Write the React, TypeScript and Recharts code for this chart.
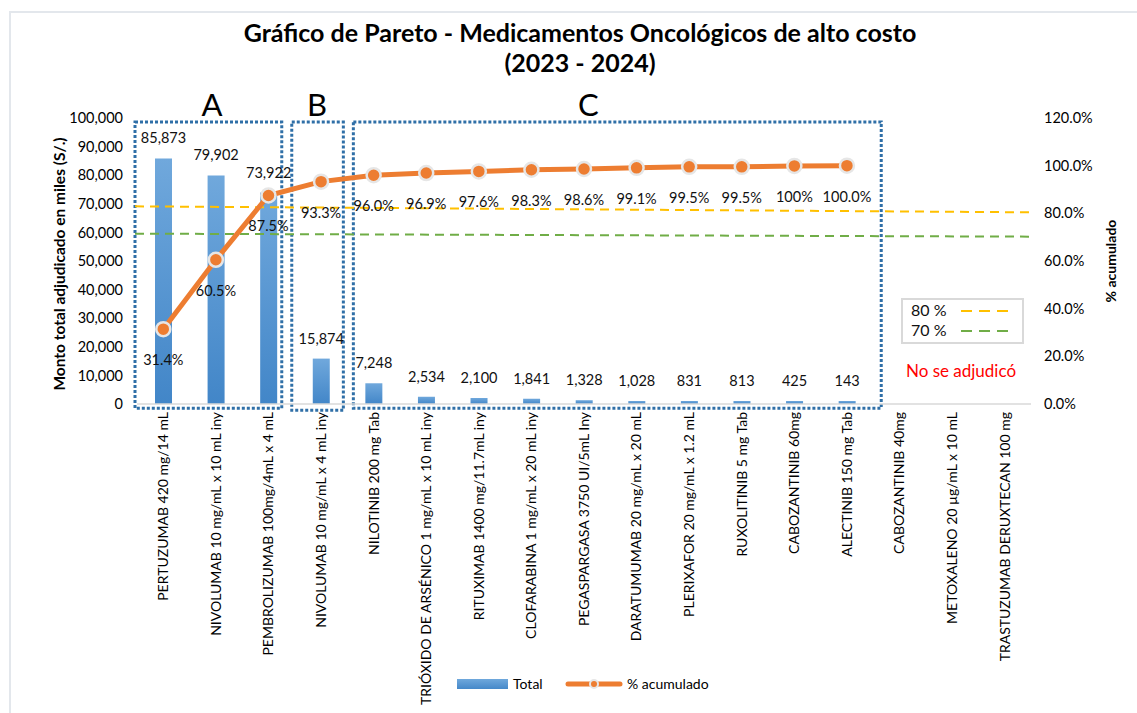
import React from 'react';
import {
  ComposedChart,
  Bar,
  Line,
  XAxis,
  YAxis,
  ReferenceLine,
  ReferenceArea,
  Legend,
  LabelList,
  Customized,
} from 'recharts';

// ---------- data ----------
const categories = [
  'PERTUZUMAB 420 mg/14 mL',
  'NIVOLUMAB 10 mg/mL x 10 mL iny',
  'PEMBROLIZUMAB 100mg/4mL x 4 mL',
  'NIVOLUMAB 10 mg/mL x 4 mL iny',
  'NILOTINIB 200 mg Tab',
  'TRIÓXIDO DE ARSÉNICO 1 mg/mL x 10 mL iny',
  'RITUXIMAB 1400 mg/11.7mL iny',
  'CLOFARABINA 1 mg/mL x 20 mL iny',
  'PEGASPARGASA 3750 UI/5mL Iny',
  'DARATUMUMAB 20 mg/mL x 20 mL',
  'PLERIXAFOR 20 mg/mL x 1.2 mL',
  'RUXOLITINIB 5 mg Tab',
  'CABOZANTINIB 60mg',
  'ALECTINIB 150 mg Tab',
  'CABOZANTINIB 40mg',
  'METOXALENO 20 µg/mL x 10 mL',
  'TRASTUZUMAB DERUXTECAN 100 mg',
];

const totals: (number | null)[] = [
  85873, 79902, 73922, 15874, 7248, 2534, 2100, 1841, 1328, 1028, 831, 813, 425, 143, null, null, null,
];

const cumulative: (number | null)[] = [
  31.4, 60.5, 87.5, 93.3, 96.0, 96.9, 97.6, 98.3, 98.6, 99.1, 99.5, 99.5, 99.9, 100.0, null, null, null,
];

const cumulativeLabels = [
  '31.4%', '60.5%', '87.5%', '93.3%', '96.0%', '96.9%', '97.6%', '98.3%', '98.6%', '99.1%',
  '99.5%', '99.5%', '100%', '100.0%', '', '', '',
];

const leftTicks = [0, 10000, 20000, 30000, 40000, 50000, 60000, 70000, 80000, 90000, 100000];
const rightTicks = [0, 20, 40, 60, 80, 100, 120];

const groups = [
  { name: 'A', from: 0, to: 2 },
  { name: 'B', from: 3, to: 3 },
  { name: 'C', from: 4, to: 13 },
];

const thresholds = [
  { label: '80 %', value: 80 },
  { label: '70 %', value: 70 },
];

// ---------- styles ----------
const FONT = "Lato, 'Liberation Sans', Arial, sans-serif";
const W = 1137;
const H = 713;
const PLOT_LEFT = 137;
const PLOT_RIGHT = 1031;
const ORANGE = '#ED7D31';
const BOX_BLUE = '#2F6FA7';
const thresholdStyle = [
  { color: '#FFC000', tiltLeft: -7, tiltRight: -1 },
  { color: '#70AD47', tiltLeft: -3.5, tiltRight: -0.5 },
];
const groupStyle = [
  { insetL: -2, insetR: -13, bottom: 0, letterDx: -4 },
  { insetL: -3, insetR: -4, bottom: 2, letterDx: -4 },
  { insetL: 6, insetR: 8, bottom: 0, letterDx: -22 },
];

const data = categories.map((name, i) => ({
  name,
  total: totals[i],
  pct: cumulative[i],
}));

const fmtThousands = (v: number) => v.toLocaleString('en-US');

const XTick = (props: any) => {
  const { x, y, payload } = props;
  return (
    <text
      x={x}
      y={y}
      transform={`rotate(-90 ${x} ${y})`}
      textAnchor="end"
      dy="0.35em"
      fontFamily={FONT}
      fontSize={14}
      fill="#000"
    >
      {payload.value}
    </text>
  );
};

const BarValueLabel = (props: any) => {
  const { x, y, width, value } = props;
  if (value == null) return null;
  return (
    <text
      x={Number(x) + Number(width) / 2}
      y={Number(y) - 15}
      textAnchor="middle"
      fontFamily={FONT}
      fontSize={14.5}
      fill="#111"
    >
      {fmtThousands(Number(value))}
    </text>
  );
};

const PctLabel = (props: any) => {
  const { x, y, index, value } = props;
  if (value == null) return null;
  return (
    <text
      x={x}
      y={Number(y) + 36}
      textAnchor="middle"
      fontFamily={FONT}
      fontSize={14.5}
      fill="#111"
    >
      {cumulativeLabels[index]}
    </text>
  );
};

const Annotations = () => (
  <g>
    <text x={580} y={42} textAnchor="middle" fontFamily={FONT} fontWeight={700} fontSize={25} fill="#000">
      Gráfico de Pareto - Medicamentos Oncológicos de alto costo
    </text>
    <text x={580} y={72} textAnchor="middle" fontFamily={FONT} fontWeight={700} fontSize={25} fill="#000">
      (2023 - 2024)
    </text>
    <rect x={902} y={299} width={121} height={44} fill="#fff" stroke="#D9D9D9" strokeWidth={2} />
    {thresholds.map((t, i) => (
      <g key={t.label}>
        <text x={911} y={316 + i * 20} fontFamily={FONT} fontSize={16} fill="#111">
          {t.label}
        </text>
        <line
          x1={961}
          x2={1010}
          y1={311 + i * 20}
          y2={311 + i * 20}
          stroke={thresholdStyle[i].color}
          strokeWidth={2}
          strokeDasharray="11 7"
        />
      </g>
    ))}
    <text x={961} y={377} textAnchor="middle" fontFamily={FONT} fontSize={17} fill="#FF0000">
      No se adjudicó
    </text>
  </g>
);

const renderLegend = () => (
  <div style={{ position: 'relative', width: W, height: 40, fontFamily: FONT, fontSize: 14, color: '#000' }}>
    <div
      style={{
        position: 'absolute',
        left: 457,
        top: 6,
        width: 51,
        height: 10,
        background: 'linear-gradient(#6FA8DC, #4588C9)',
      }}
    />
    <span style={{ position: 'absolute', left: 513, top: 2, lineHeight: '17px' }}>Total</span>
    <svg style={{ position: 'absolute', left: 565, top: 3 }} width={58} height={16}>
      <line x1={3} y1={8} x2={55} y2={8} stroke={ORANGE} strokeWidth={5} strokeLinecap="round" />
      <circle cx={29} cy={8} r={4} fill={ORANGE} stroke="#E6E6E6" strokeWidth={2} />
    </svg>
    <span style={{ position: 'absolute', left: 627, top: 2, lineHeight: '17px' }}>% acumulado</span>
  </div>
);

const ThresholdShape = (i: number) => (p: any) => {
  const yv = Number(p.y1 ?? p.y2 ?? p.y);
  return (
    <g clipPath="url(#thresholdClip)">
      <line
        x1={PLOT_LEFT - 2}
        x2={PLOT_RIGHT + 2}
        y1={yv + thresholdStyle[i].tiltLeft}
        y2={yv + thresholdStyle[i].tiltRight}
        stroke={thresholdStyle[i].color}
        strokeWidth={2}
        strokeDasharray="9 6"
      />
    </g>
  );
};

export default function App() {
  return (
    <div style={{ position: 'absolute', left: 0, top: 0, width: W, height: H, background: '#fff', overflow: 'hidden' }}>
      <div
        style={{
          position: 'absolute',
          left: 9,
          top: 11,
          width: W,
          height: H,
          borderTop: '2px solid #E3E7EC',
          borderLeft: '2px solid #E3E7EC',
        }}
      />
      <ComposedChart
        width={W}
        height={H}
        data={data}
        margin={{ top: 118, right: 0, bottom: 0, left: 0 }}
        style={{ position: 'absolute', left: 0, top: 0 }}
      >
        <defs>
          <linearGradient id="barGrad" x1="0" y1="0" x2="0" y2="1">
            <stop offset="0%" stopColor="#70A8DC" />
            <stop offset="100%" stopColor="#4286C8" />
          </linearGradient>
          <clipPath id="thresholdClip">
            <rect x={PLOT_LEFT - 3} y={0} width={PLOT_RIGHT - PLOT_LEFT + 6} height={H} />
          </clipPath>
        </defs>
        <XAxis
          dataKey="name"
          interval={0}
          height={269}
          tick={<XTick />}
          tickLine={false}
          axisLine={{ stroke: '#D9D9D9', strokeWidth: 1.5 }}
          xAxisId={0}
        />
        <YAxis
          yAxisId="left"
          domain={[0, 100000]}
          ticks={leftTicks}
          interval={0}
          tickFormatter={fmtThousands}
          width={137}
          axisLine={false}
          tickLine={false}
          tickMargin={8}
          tick={{ fontFamily: FONT, fontSize: 14.5, fill: '#000' }}
          label={(p: any) => {
            const vb = p.viewBox || {};
            const cx = (vb.x || 0) + 60;
            const cy = (vb.y || 118) + (vb.height || 286) / 2 + 3;
            return (
              <text
                x={cx}
                y={cy}
                transform={`rotate(-90 ${cx} ${cy})`}
                textAnchor="middle"
                dy="0.35em"
                fontFamily={FONT}
                fontWeight={700}
                fontSize={15.5}
                fill="#000"
              >
                Monto total adjudicado en miles (S/.)
              </text>
            );
          }}
        />
        <YAxis
          yAxisId="right"
          orientation="right"
          domain={[0, 120]}
          ticks={rightTicks}
          interval={0}
          tickFormatter={(v: number) => `${v.toFixed(1)}%`}
          width={106}
          axisLine={false}
          tickLine={false}
          tickMargin={7}
          tick={{ fontFamily: FONT, fontSize: 14.5, fill: '#000', textAnchor: 'start' }}
          label={(p: any) => {
            const vb = p.viewBox || {};
            const cx = (vb.x || 1031) + 80;
            const cy = (vb.y || 118) + (vb.height || 286) / 2;
            return (
              <text
                x={cx}
                y={cy}
                transform={`rotate(-90 ${cx} ${cy})`}
                textAnchor="middle"
                dy="0.35em"
                fontFamily={FONT}
                fontWeight={700}
                fontSize={14}
                fill="#000"
              >
                % acumulado
              </text>
            );
          }}
        />

        {thresholds.map((t, i) => (
          <ReferenceLine
            key={t.label}
            yAxisId="right"
            y={t.value}
            ifOverflow="visible"
            stroke="none"
            shape={ThresholdShape(i)}
          />
        ))}

        <Bar
          yAxisId="left"
          dataKey="total"
          name="Total"
          barSize={17}
          fill="url(#barGrad)"
          minPointSize={(v: any) => (v == null ? 0 : 3)}
          isAnimationActive={false}
        >
          <LabelList dataKey="total" content={<BarValueLabel />} />
        </Bar>

        <Line
          yAxisId="right"
          dataKey="pct"
          name="% acumulado"
          type="linear"
          stroke={ORANGE}
          strokeWidth={5}
          dot={{ r: 7, fill: ORANGE, stroke: '#E6E6E6', strokeWidth: 2.5 }}
          activeDot={false}
          isAnimationActive={false}
        >
          <LabelList dataKey="pct" content={<PctLabel />} />
        </Line>

        {groups.map((g, i) => (
          <ReferenceArea
            key={g.name}
            yAxisId="left"
            x1={categories[g.from]}
            x2={categories[g.to]}
            y1={-1500 - groupStyle[i].bottom * 350}
            y2={98600}
            ifOverflow="visible"
            fill="none"
            stroke={BOX_BLUE}
            strokeWidth={3}
            strokeDasharray="3 2"
            shape={(p: any) => (
              <rect
                x={Number(p.x) + groupStyle[i].insetL}
                y={p.y}
                width={Number(p.width) - groupStyle[i].insetL + groupStyle[i].insetR}
                height={p.height}
                fill="none"
                stroke={BOX_BLUE}
                strokeWidth={3}
                strokeDasharray="3 2"
              />
            )}
            label={(p: any) => {
              const vb = p.viewBox || {};
              const cx = Number(vb.x) + Number(vb.width) / 2 + groupStyle[i].letterDx;
              return (
                <text x={cx} y={Number(vb.y) - 6} textAnchor="middle" fontFamily={FONT} fontSize={31} fill="#000">
                  {g.name}
                </text>
              );
            }}
          />
        ))}

        <Legend verticalAlign="bottom" content={renderLegend} wrapperStyle={{ left: 0, bottom: 0, width: W, height: 40 }} />
        <Customized component={Annotations} />
      </ComposedChart>
    </div>
  );
}
